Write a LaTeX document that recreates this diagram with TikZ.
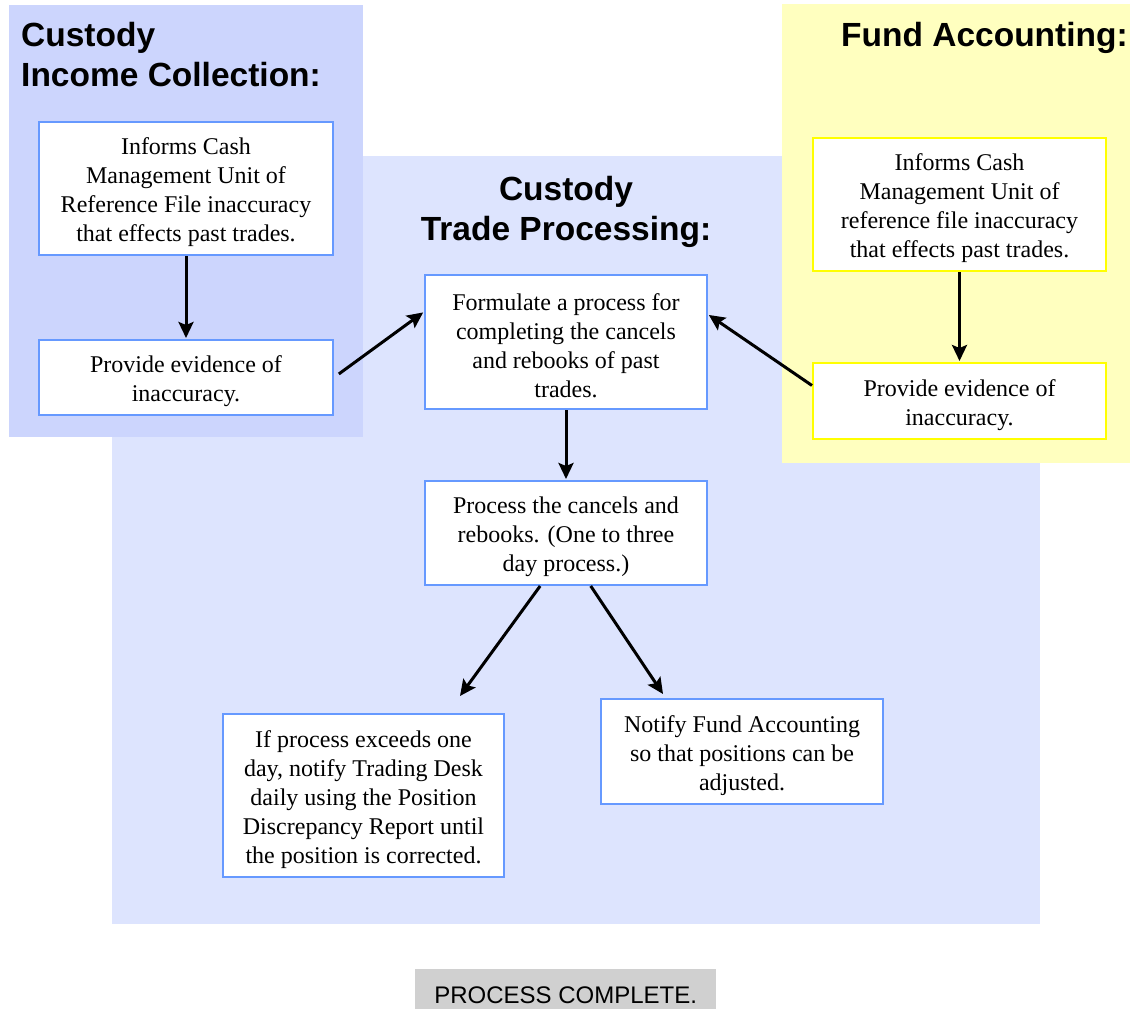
\documentclass[tikz,border=0pt]{standalone}
\usepackage{fontspec}
\setmainfont{Liberation Serif}
\setsansfont{Liberation Sans}
\usetikzlibrary{arrows.meta,calc}

\definecolor{incomebg}{RGB}{204,213,253}
\definecolor{tradebg}{RGB}{221,228,254}
\definecolor{fundbg}{RGB}{255,255,191}
\definecolor{boxblue}{RGB}{102,153,255}
\definecolor{boxyellow}{RGB}{255,255,0}
\definecolor{donegray}{RGB}{208,208,208}

% invisible strut that sets the first text line a little lower in its box
\newcommand\firstline{\rule{0pt}{25pt}}

\tikzset{
  heading/.style={font=\sffamily\bfseries\fontsize{33.5}{40}\selectfont, inner sep=0pt, align=left},
  stepbox/.style={fill=white, line width=2pt, inner sep=0pt, align=center,
    font=\fontsize{24}{29}\selectfont},
  bluebox/.style={stepbox, draw=boxblue},
  yellowbox/.style={stepbox, draw=boxyellow},
  flow/.style={line width=3pt, -{Stealth[length=16pt,width=15pt,inset=3pt]}},
  donebox/.style={fill=donegray, draw=none, inner sep=0pt,
    font=\sffamily\fontsize{24}{29}\selectfont,
    text height=28pt, text depth=0pt, minimum width=301pt, minimum height=40pt}
}

\begin{document}
\begin{tikzpicture}[x=1pt,y=-1pt]
  \useasboundingbox (0,0) rectangle (1130,1009);

  % swim-lane panels
  \fill[tradebg]  (112,156) rectangle (1040,924);
  \fill[incomebg] (9,5) rectangle (363,437);
  \fill[fundbg]   (782,4) rectangle (1130,463);

  % panel headings
  \node[heading, anchor=north west] (hIncome) at (21,22.5) {Custody\\Income Collection:};
  \node[heading, anchor=north, align=center] (hTrade) at (566,176) {Custody\\Trade Processing:};
  \node[heading, anchor=north west] (hFund) at (841,22.5) {Fund Accounting:};

  % income collection steps
  \node[bluebox, minimum width=294pt, minimum height=133pt] (L1) at (186,188.5)
    {\firstline Informs Cash\\Management Unit of\\Reference File inaccuracy\\that effects past trades.};
  \node[bluebox, minimum width=294pt, minimum height=75pt] (L2) at (186,377.5)
    {\firstline Provide evidence of\\inaccuracy.};

  % fund accounting steps
  \node[yellowbox, minimum width=293pt, minimum height=133pt] (R1) at (959.5,204.5)
    {\firstline Informs Cash\\Management Unit of\\reference file inaccuracy\\that effects past trades.};
  \node[yellowbox, minimum width=293pt, minimum height=76pt] (R2) at (959.5,401)
    {\firstline Provide evidence of\\inaccuracy.};

  % trade processing steps
  \node[bluebox, minimum width=282pt, minimum height=134pt] (M1) at (566,342)
    {\firstline Formulate a process for\\completing the cancels\\and rebooks of past\\trades.};
  \node[bluebox, minimum width=282pt, minimum height=104pt] (M2) at (566,533)
    {\firstline Process the cancels and\\rebooks. (One to three\\day process.)};
  \node[bluebox, minimum width=281pt, minimum height=163pt] (M3) at (363.5,795.5)
    {\firstline If process exceeds one\\day, notify Trading Desk\\daily using the Position\\Discrepancy Report until\\the position is corrected.};
  \node[bluebox, minimum width=282pt, minimum height=105pt] (M4) at (742,751.5)
    {\firstline Notify Fund Accounting\\so that positions can be\\adjusted.};

  % final status
  \node[donebox, anchor=north west] (done) at (415,969) {PROCESS COMPLETE.};

  % arrow tips that stop short of their boxes
  \coordinate (tipM3) at (460,696);
  \coordinate (tipM4) at (663,694);

  % connectors
  \draw[flow, shorten >=1pt] (L1.south) -- (L2.north);
  \draw[flow, shorten <=6pt, shorten >=1pt] (L2.east) -- (M1.168);
  \draw[flow, shorten >=1pt] (R1.south) -- (R2.north);
  \draw[flow, shorten >=1pt] (R2.174) -- (M1.11.5);
  \draw[flow, shorten >=1pt] (M1.south) -- (M2.north);
  \draw[flow] (M2.244) -- (tipM3);
  \draw[flow] (M2.295) -- (tipM4);
\end{tikzpicture}
\end{document}
